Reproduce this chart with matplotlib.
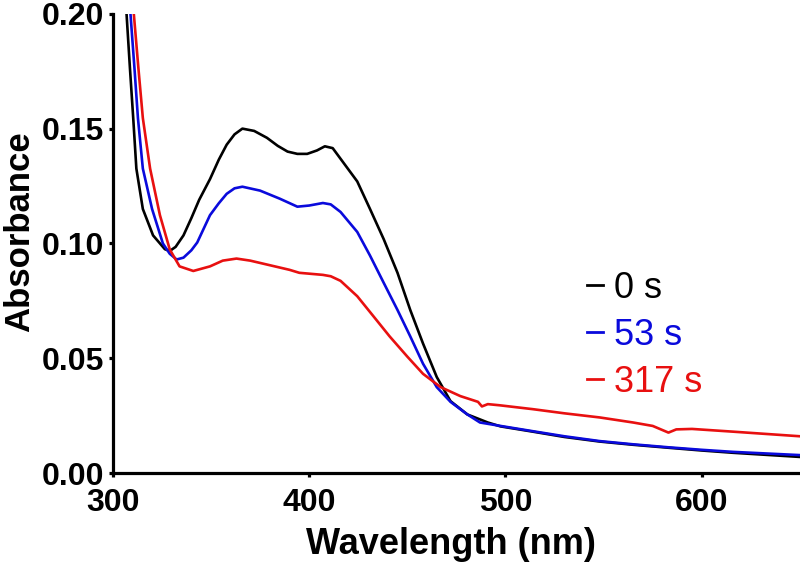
import numpy as np
import matplotlib
matplotlib.use('Agg')
import matplotlib.pyplot as plt


# Spectra (wavelength in nm, absorbance)
wl_0s = [305, 307, 308.7, 310.4, 312, 315.3, 320.5, 326.5, 329, 332, 336, 340, 344, 349.5,
         354, 358, 362, 366, 372, 378.5, 384, 389, 394, 399, 404, 408, 412, 417, 424.5,
         431, 438, 445, 451.5, 458, 465, 472, 480.6, 491, 497.5, 514, 530, 548,
         565, 583, 600, 616, 633, 650]
abs_0s = [0.215, 0.20, 0.1767, 0.1546, 0.1326, 0.115, 0.1035, 0.0975, 0.0967, 0.0985,
          0.1035, 0.111, 0.119, 0.128, 0.1365, 0.143, 0.1475, 0.150, 0.149, 0.146, 0.1425,
          0.140, 0.139, 0.139, 0.1405, 0.1423, 0.1415, 0.1357, 0.127, 0.115, 0.1018,
          0.0872, 0.071, 0.0564, 0.0418, 0.0313, 0.0255, 0.022, 0.0203, 0.018, 0.0157,
          0.0137, 0.0123, 0.011, 0.0098, 0.0088, 0.0079, 0.0070]

wl_53s = [307, 309, 311, 312.8, 315.3, 320, 325.5, 329, 332.5, 336, 340, 343, 349.5, 354,
          358, 362, 366, 375, 385, 394, 400, 407, 411, 416, 424.5, 431, 438, 445, 451.5,
          458, 465, 472, 480.6, 487, 497.5, 514, 530, 548, 565, 583, 600, 616, 633, 650]
abs_53s = [0.215, 0.20, 0.1767, 0.1546, 0.1326, 0.115, 0.100, 0.0955, 0.093, 0.0938,
           0.097, 0.1004, 0.1123, 0.1175, 0.1216, 0.124, 0.1247, 0.123, 0.1195, 0.116,
           0.1165, 0.1176, 0.117, 0.1137, 0.105, 0.0947, 0.0828, 0.071, 0.0595, 0.0476,
           0.0374, 0.031, 0.0255, 0.022, 0.0205, 0.0182, 0.016, 0.0139, 0.0125, 0.0112,
           0.0101, 0.0092, 0.0085, 0.0078]

wl_317s = [309, 310.7, 313, 315.3, 319, 324, 329, 334, 341, 349.5, 356, 363, 370, 380,
           390, 395, 407, 411, 416, 424.5, 433, 441, 450, 458, 467, 477, 486, 488, 491,
           497, 514, 530, 548, 565, 575, 583, 587, 595, 616, 633, 650]
abs_317s = [0.215, 0.20, 0.1767, 0.1546, 0.1326, 0.1123, 0.0974, 0.090, 0.088, 0.090,
            0.0925, 0.0934, 0.0925, 0.0905, 0.0885, 0.0872, 0.0863, 0.0857, 0.0837,
            0.077, 0.068, 0.0595, 0.0507, 0.0432, 0.0374, 0.0335, 0.031, 0.029, 0.030,
            0.0295, 0.0278, 0.026, 0.0242, 0.022, 0.0205, 0.0176, 0.019, 0.0192,
            0.018, 0.017, 0.016]

labels = ['0 s', '53 s', '317 s']
colors = ['#000000', '#0a0adc', '#e81010']
x_ticks = [300, 400, 500, 600]
y_ticks = [0.00, 0.05, 0.10, 0.15, 0.20]

plt.rcParams['font.family'] = ['Liberation Sans', 'DejaVu Sans']

fig = plt.figure(figsize=(8, 5.69), dpi=100)
ax = fig.add_axes([0.141, 0.1687, 0.859, 0.807])

series = [(wl_0s, abs_0s), (wl_53s, abs_53s), (wl_317s, abs_317s)]
for (wl, ab), lab, col in zip(series, labels, colors):
    ax.plot(wl, ab, color=col, lw=1.9, label=lab)

ax.set_xlim(300, 650)
ax.set_ylim(0, 0.20)
ax.set_xticks(x_ticks)
ax.set_yticks(y_ticks)
ax.set_yticklabels([f'{v:.2f}' for v in y_ticks])

for side in ['top', 'right']:
    ax.spines[side].set_visible(False)
for side in ['left', 'bottom']:
    ax.spines[side].set_linewidth(2.3)

ax.tick_params(width=2.3, length=3, direction='out')
ax.tick_params(axis='x', pad=8)
ax.tick_params(axis='y', pad=3)
for t in ax.get_xticklabels() + ax.get_yticklabels():
    t.set_fontfamily(['Liberation Sans Narrow', 'Liberation Sans'])
    t.set_fontweight('bold')
    t.set_fontsize(23)

ax.set_xlabel('Wavelength (nm)', fontsize=26, fontweight='bold')
ax.set_ylabel('Absorbance', fontsize=25, fontweight='bold')
ax.xaxis.set_label_coords(0.492, -0.118)
ax.yaxis.set_label_coords(-0.112, 0.525)

leg = ax.legend(loc='upper left', bbox_to_anchor=(0.69, 0.44), frameon=False,
                fontsize=26, handlelength=0.45, handletextpad=0.3,
                labelspacing=0.33, labelcolor='linecolor', borderaxespad=0,
                borderpad=0)
for h in leg.get_lines():
    h.set_linewidth(2)

fig.savefig('out.png', dpi=100)
